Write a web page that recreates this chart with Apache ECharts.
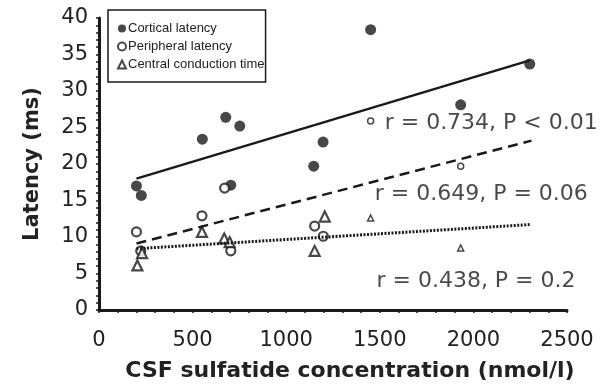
<!DOCTYPE html>
<html>
<head>
<meta charset="utf-8">
<script src="https://cdn.jsdelivr.net/npm/echarts@6/dist/echarts.min.js"></script>
<style>
  html, body { margin: 0; padding: 0; background: #fff; }
  #chart { width: 608px; height: 392px; }
</style>
</head>
<body>
<div id="chart"></div>
<script>
// values: [sulfatide nmol/l, latency ms]
var cortical = [[200, 17.0], [226, 15.7], [552, 23.4], [677, 26.4], [704, 17.1], [752, 25.2],
  [1147, 19.7], [1197, 23.0], [1451, 38.4], [1932, 28.1], [2301, 33.7]]
var peripheral = [[200, 10.7], [223, 8.1], [550, 12.9], [671, 16.7], [704, 8.1],
  [1152, 11.5], [1198, 10.1], [1451, 25.9], [1932, 19.7]]
var central = [[205, 6.1], [230, 7.8], [550, 10.7], [669, 9.8], [698, 9.3],
  [1152, 8.1], [1206, 12.8], [1451, 12.6], [1932, 8.5]]

// regression line end points
var corticalFit = [[200, 18.0], [2301, 34.2]]
var peripheralFit = [[200, 9.1], [2310, 23.2]]
var centralFit = [[200, 8.4], [2301, 11.7]]

var notes = [
  { name: 'r = 0.734, P < 0.01', value: [1526, 25.6] },
  { name: 'r = 0.649, P = 0.06', value: [1473, 15.8] },
  { name: 'r = 0.438, P = 0.2', value: [1482, 3.9] }
]

var ink = '#1a1a1a'

// the points on the right were drawn smaller in the original
function shrink(pts) {
  return pts.map(function (p) {
    return p[0] > 1400 ? { value: p, symbolSize: 6, itemStyle: { borderWidth: 1.5 } } : p
  })
}

var myChart = echarts.init(document.getElementById('chart'))
var option = {
  animation: false,
  backgroundColor: '#fff',
  textStyle: { fontFamily: 'DejaVu Sans', color: '#222' },
  grid: { left: 99, right: 41, top: 18, bottom: 82 },
  legend: {
    data: ['Cortical latency', 'Peripheral latency', 'Central conduction time'],
    orient: 'vertical',
    left: 108,
    top: 10,
    padding: [12, 1, 11, 9],
    itemGap: 5,
    itemWidth: 8,
    itemHeight: 8,
    borderColor: ink,
    borderWidth: 1.5,
    textStyle: { fontFamily: 'Liberation Sans', fontSize: 13, color: '#222', padding: [0, 0, 0, -3] }
  },
  xAxis: {
    type: 'value',
    min: 0,
    max: 2500,
    interval: 500,
    name: 'CSF sulfatide concentration (nmol/l)',
    nameLocation: 'middle',
    nameGap: 50,
    nameTextStyle: { fontFamily: 'DejaVu Sans', fontWeight: 'bold', fontSize: 22, color: '#222', padding: [0, 0, 0, 34] },
    axisLine: { lineStyle: { color: ink, width: 3 } },
    axisTick: { length: 3, lineStyle: { color: ink, width: 1.5 } },
    minorTick: { show: true, splitNumber: 5, length: 3, lineStyle: { color: ink, width: 1.5 } },
    axisLabel: {
      fontFamily: 'DejaVu Sans', fontSize: 21, color: '#222', margin: 20,
      formatter: function (v) { return String(v) }
    },
    splitLine: { show: false }
  },
  yAxis: {
    type: 'value',
    min: 0,
    max: 40,
    interval: 5,
    name: 'Latency (ms)',
    nameLocation: 'middle',
    nameGap: 56,
    nameTextStyle: { fontFamily: 'DejaVu Sans', fontWeight: 'bold', fontSize: 21, color: '#222' },
    axisLine: { lineStyle: { color: ink, width: 3 } },
    axisTick: { length: 3, lineStyle: { color: ink, width: 1.5 } },
    minorTick: { show: true, splitNumber: 5, length: 3, lineStyle: { color: ink, width: 1.5 } },
    axisLabel: { fontFamily: 'DejaVu Sans', fontSize: 21, color: '#222', margin: 11 },
    splitLine: { show: false }
  },
  series: [
    {
      name: 'Cortical fit', type: 'line', data: corticalFit, symbol: 'none', silent: true,
      lineStyle: { color: ink, width: 2.5 }
    },
    {
      name: 'Peripheral fit', type: 'line', data: peripheralFit, symbol: 'none', silent: true,
      lineStyle: { color: ink, width: 2.5, type: [10, 6] }
    },
    {
      name: 'Central fit', type: 'line', data: centralFit, symbol: 'none', silent: true,
      lineStyle: { color: ink, width: 3, type: [2, 1.5] }
    },
    {
      name: 'Cortical latency', type: 'scatter', data: cortical, symbol: 'circle', symbolSize: 11,
      itemStyle: { color: ink }
    },
    {
      name: 'Peripheral latency', type: 'scatter', data: shrink(peripheral), symbol: 'circle', symbolSize: 9,
      itemStyle: { color: '#fff', borderColor: ink, borderWidth: 2.2 }
    },
    {
      name: 'Central conduction time', type: 'scatter', data: shrink(central), symbol: 'triangle', symbolSize: 10,
      itemStyle: { color: '#fff', borderColor: ink, borderWidth: 2.2 }
    },
    {
      name: 'notes', type: 'scatter', data: notes, symbolSize: 0, silent: true, z: 5,
      label: {
        show: true, position: 'right', distance: 0, formatter: '{b}',
        fontFamily: 'DejaVu Sans', fontSize: 22, color: '#1a1a1a'
      }
    }
  ]
};

myChart.setOption(option);
</script>
</body>
</html>
